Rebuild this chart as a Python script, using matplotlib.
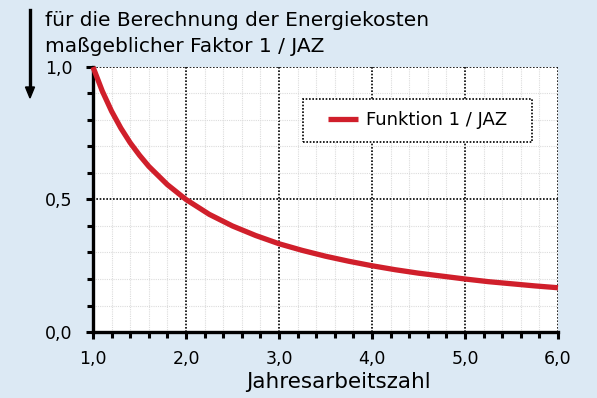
import matplotlib.pyplot as plt
from matplotlib.ticker import MultipleLocator
from matplotlib.patches import Rectangle

# values
jaz = [1.0, 1.1, 1.2, 1.3, 1.4, 1.5, 1.6, 1.8, 2.0, 2.25, 2.5, 2.75, 3.0, 3.25, 3.5,
       3.75, 4.0, 4.25, 4.5, 4.75, 5.0, 5.25, 5.5, 5.75, 6.0]
faktor = [1.0, 0.909, 0.833, 0.769, 0.714, 0.667, 0.625, 0.556, 0.5, 0.444, 0.4, 0.364,
          0.333, 0.308, 0.286, 0.267, 0.25, 0.235, 0.222, 0.211, 0.2, 0.190, 0.182,
          0.174, 0.167]

bg = '#dce9f4'
red = '#d01f2b'
plt.rcParams['font.family'] = ['DejaVu Sans']

fig = plt.figure(figsize=(5.97, 3.98), dpi=100, facecolor=bg)
ax = fig.add_axes([93 / 597, 1 - 332 / 398, 465 / 597, 265 / 398])
ax.set_facecolor('white')

ax.plot(jaz, faktor, color=red, lw=3.8, solid_capstyle='butt', solid_joinstyle='round',
        label='Funktion 1 / JAZ', zorder=3, clip_on=False)

ax.set_xlim(1, 6)
ax.set_ylim(0, 1)
ax.xaxis.set_major_locator(MultipleLocator(1))
ax.xaxis.set_minor_locator(MultipleLocator(0.2))
ax.yaxis.set_major_locator(MultipleLocator(0.5))
ax.yaxis.set_minor_locator(MultipleLocator(0.1))
fmt = lambda v, p: f'{v:.1f}'.replace('.', ',')
ax.xaxis.set_major_formatter(fmt)
ax.yaxis.set_major_formatter(fmt)

ax.grid(which='minor', color='#dcdcdc', ls=(0, (1, 1)), lw=0.8)
ax.grid(which='major', color='black', ls=(0, (1, 1)), lw=1.2)
ax.set_axisbelow(True)

for s in ['top', 'right']:
    ax.spines[s].set_visible(False)
for s in ['left', 'bottom']:
    ax.spines[s].set_linewidth(2.4)

ax.tick_params(which='both', direction='out', width=2.2, length=5, labelsize=12.5,
               colors='black')
ax.tick_params(which='minor', length=4)
ax.tick_params(axis='y', pad=10)
ax.tick_params(axis='x', pad=8)

ax.set_xlabel('Jahresarbeitszahl', fontsize=15.5)
ax.xaxis.set_label_coords((338 - 93) / 465, -(392 - 332) / 265)
ax.xaxis.label.set_va('bottom')

# legend with a dotted frame
bx0, bx1, by0, by1 = 303, 532, 99, 142
ax.add_patch(Rectangle(((bx0 - 93) / 465, (332 - by1) / 265), (bx1 - bx0) / 465,
                       (by1 - by0) / 265, transform=ax.transAxes, facecolor='white',
                       edgecolor='black', ls=(0, (1, 1)), lw=1.2, zorder=4))
leg = ax.legend(loc='center', bbox_to_anchor=(((bx0 + bx1) / 2 - 93) / 465,
                                              (332 - (by0 + by1) / 2) / 265),
                fontsize=13, frameon=False, handlelength=1.65, handletextpad=0.45,
                borderpad=0, borderaxespad=0)
leg.set_zorder(5)

fig.text(45 / 597, 1 - 21 / 398, 'für die Berechnung der Energiekosten',
         fontsize=14.5, va='center')
fig.text(45 / 597, 1 - 46 / 398, 'maßgeblicher Faktor 1 / JAZ',
         fontsize=14.5, va='center')
fig.add_artist(plt.Line2D([30 / 597, 30 / 597], [1 - 10 / 398, 1 - 90 / 398],
                          color='black', lw=2.4))
fig.patches.append(plt.Polygon([[25.5 / 597, 1 - 87 / 398], [34.5 / 597, 1 - 87 / 398],
                                [30 / 597, 1 - 98 / 398]], closed=True,
                               transform=fig.transFigure, color='black'))

fig.savefig('out.png', dpi=100, facecolor=bg)
